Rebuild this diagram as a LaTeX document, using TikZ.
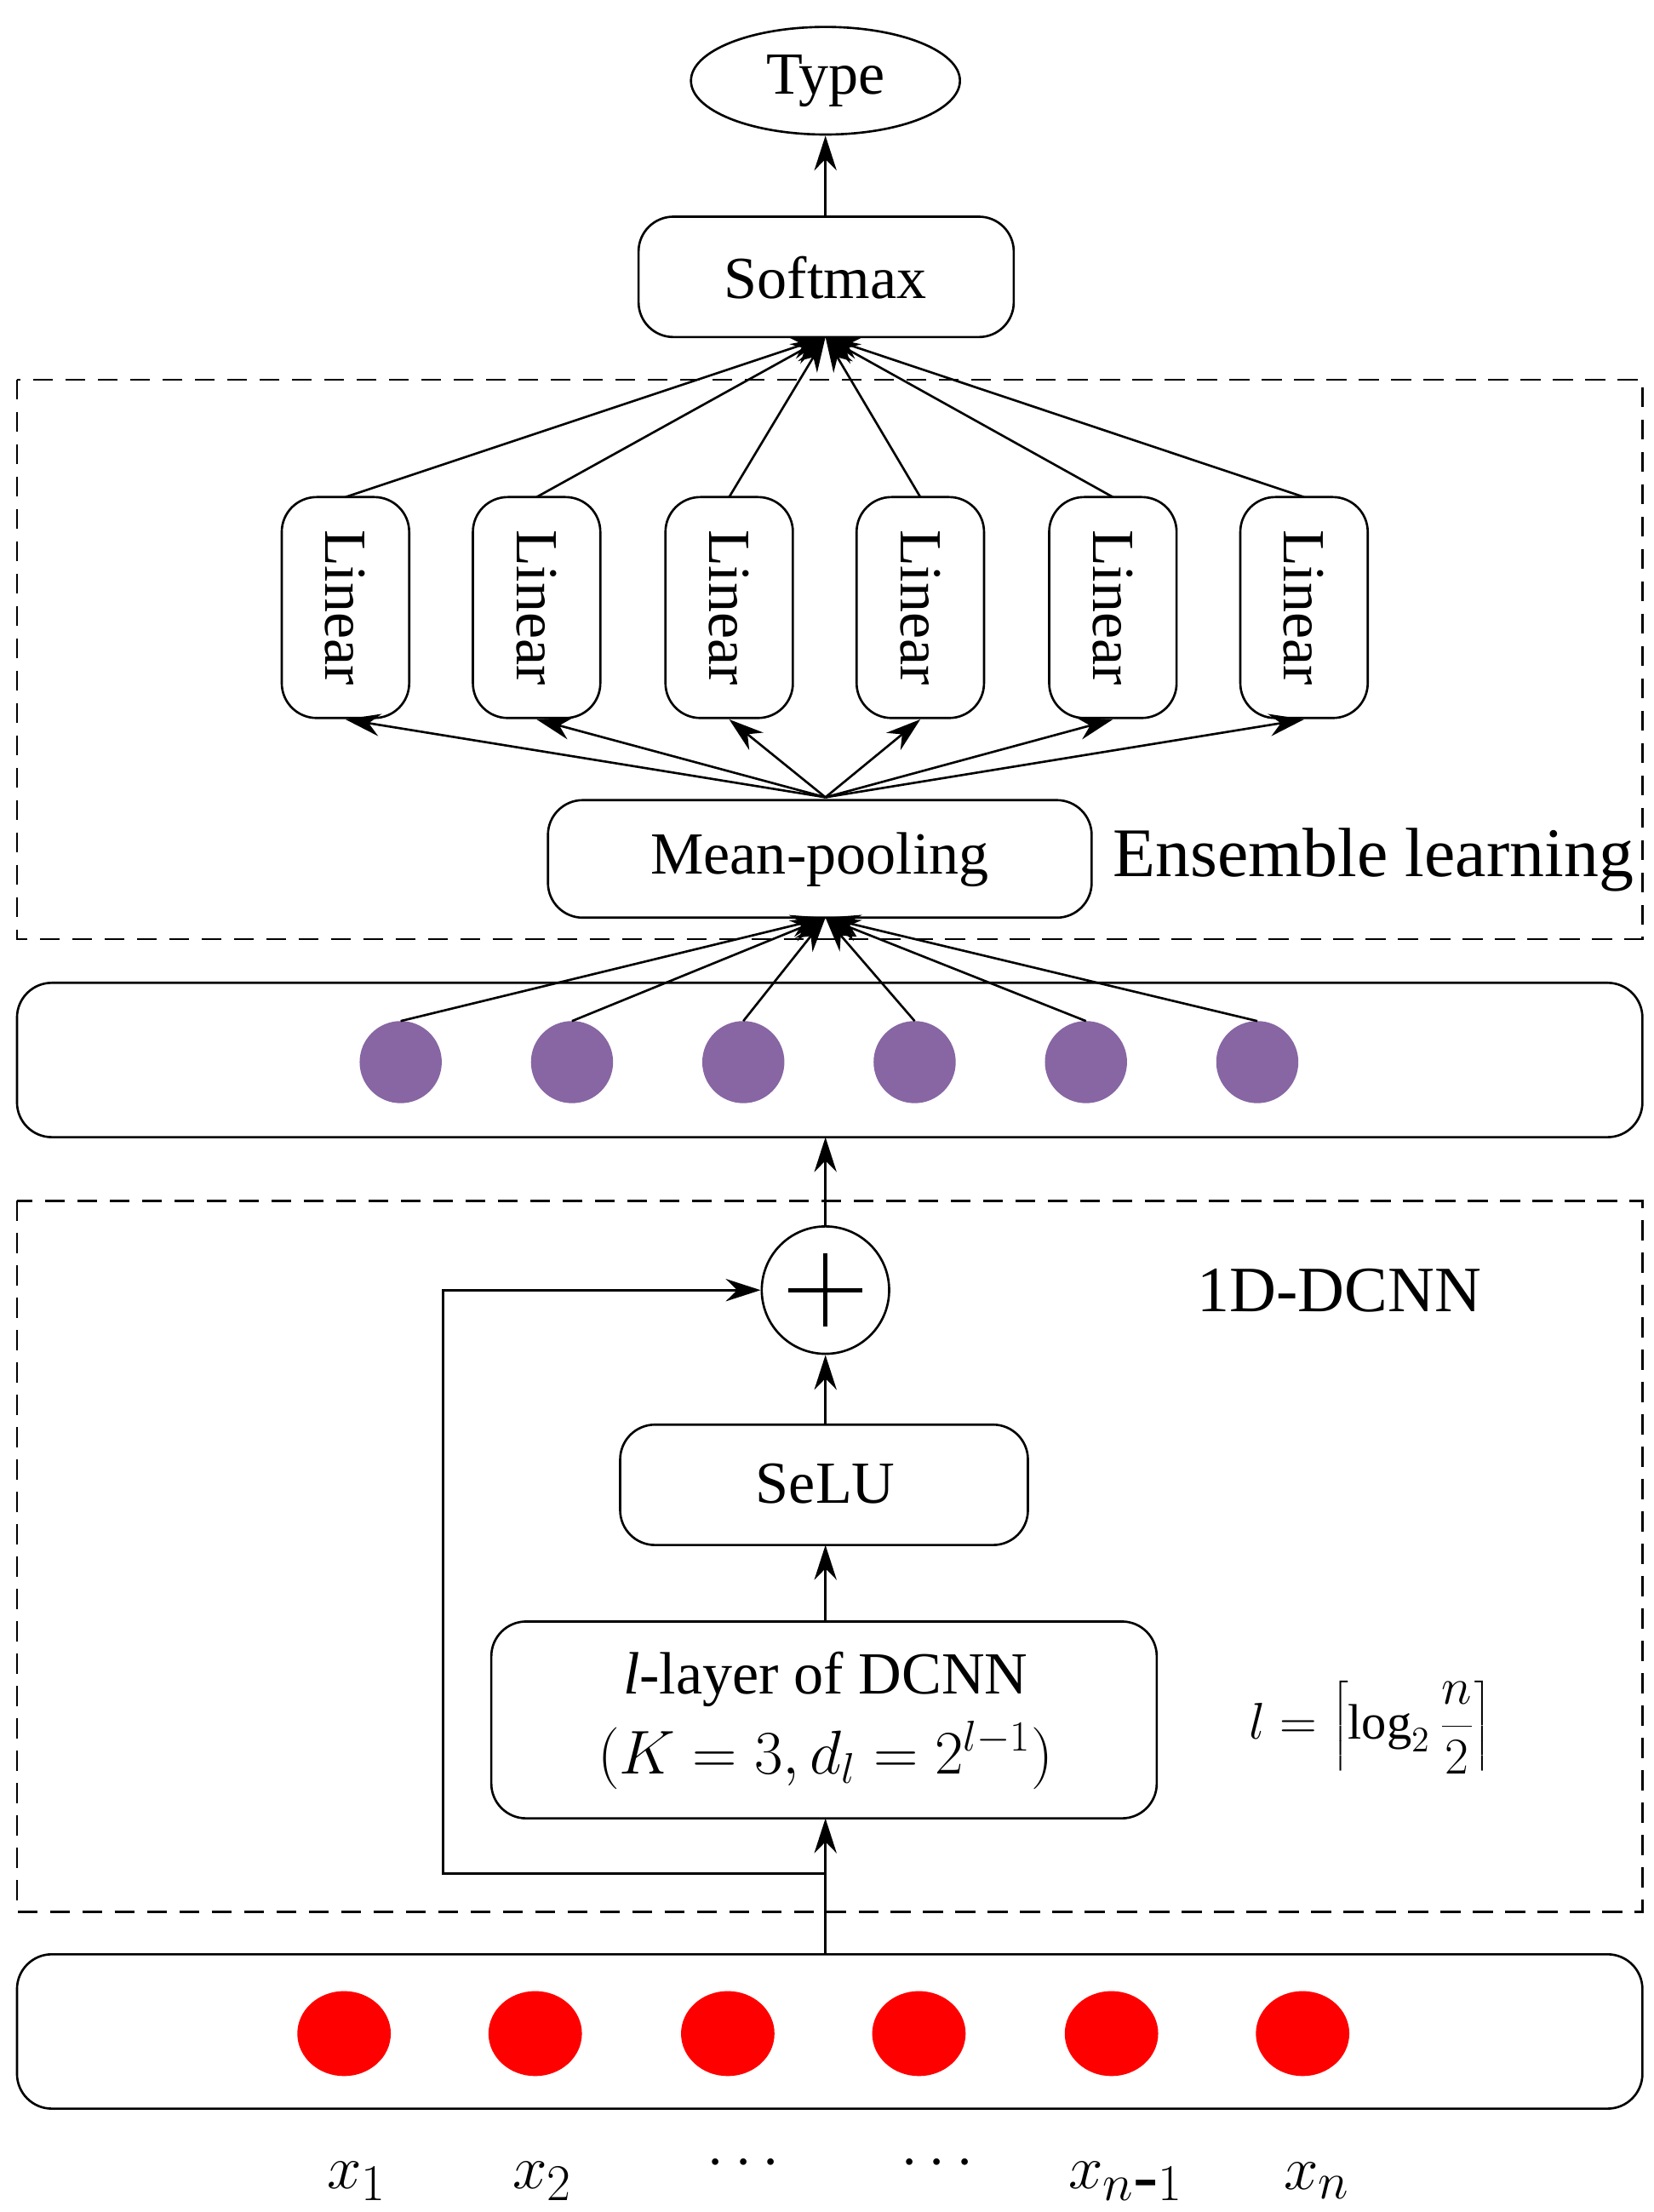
\documentclass[tikz,border=0pt]{standalone}
\usepackage{fontspec}
\setmainfont{Liberation Serif}
\usetikzlibrary{arrows.meta,shapes.geometric}
\begin{document}
\begin{tikzpicture}[x=0.02cm,y=-0.02cm,
 ar/.style={-{Stealth[length=14pt,width=9pt]},line width=0.9pt},
 ln/.style={line width=0.9pt},
 rb/.style={draw,line width=0.9pt,rounded corners=14pt},
 db/.style={draw,line width=0.8pt,dash pattern=on 8pt off 5pt},
 tx/.style={font=\fontsize{24}{28}\selectfont}]
\useasboundingbox (0,0) rectangle (1168,1562);
% Type and softmax
\node[draw,ellipse,line width=0.9pt,minimum width=3.8cm,minimum height=1.52cm,tx] (type) at (583,57) {Type};
\draw[rb] (451,153) rectangle (716,238);
\node[tx] (soft) at (583,196) {Softmax};
\coordinate (softb) at (583,238);
\coordinate (softt) at (583,153);
\draw[ar] (softt) -- (type.south);
% ensemble box
\draw[db] (12,268) rectangle (1160,663);
\foreach \x [count=\i] in {244,379,515,650,786,921}{
  \draw[rb] (\x-45,351) rectangle (\x+45,507);
  \node[tx,rotate=-90] (lin\i) at (\x,429) {Linear};
  \coordinate (lt\i) at (\x,351);
  \coordinate (lb\i) at (\x,508);
  \draw[ar] (lt\i) -- (softb);
}
\draw[rb] (387,565) rectangle (771,648);
\node[tx] (mp) at (579,607) {Mean-pooling};
\coordinate (mpt) at (583,563);
\coordinate (mpb) at (583,648);
\foreach \i in {1,...,6}{\draw[ar] (mpt) -- (lb\i);}
\node[font=\fontsize{28}{32}\selectfont,anchor=west] (ens) at (780,607) {Ensemble learning};
% purple
\draw[rb] (12,694) rectangle (1160,803);
\coordinate (pb) at (583,803);
\foreach \x [count=\i] in {283,404,525,646,767,888}{
  \fill[fill={rgb,255:red,135;green,102;blue,163}] (\x,750) circle[radius=29];
  \coordinate (pc\i) at (\x,721);
  \draw[ar] (pc\i) -- (mpb);
}
% DCNN box
\draw[db] (12,848) rectangle (1160,1350);
\node[draw,circle,line width=0.9pt,minimum size=1.8cm,inner sep=0pt] (plus) at (583,911) {};
\draw[line width=1.6pt] (583,885) -- (583,937) (557,911) -- (609,911);
\draw[ar] (plus.north) -- (pb);
\node[font=\fontsize{26}{30}\selectfont] (dc) at (946,911) {1D-DCNN};
\draw[rb] (438,1006) rectangle (726,1091);
\node[tx] (selu) at (583,1048) {SeLU};
\coordinate (selt) at (583,1006);
\coordinate (selb) at (583,1091);
\draw[ar] (selt) -- (plus.south);
\draw[rb] (347,1145) rectangle (817,1284);
\node[tx,align=center] (dl) at (583,1215) {\textit{l}-layer of DCNN\\[4pt]$(K=3,d_l=2^{l-1})$};
\coordinate (dlt) at (583,1145);
\coordinate (dlb) at (583,1284);
\draw[ar] (dlt) -- (selb);
\node[font=\fontsize{20}{24}\selectfont] (form) at (968,1220) {$l=\left\lceil \log_2\displaystyle\frac{n}{2}\right\rceil$};
% input
\draw[rb] (12,1380) rectangle (1160,1489);
\coordinate (inpt) at (583,1380);
\coordinate (sk) at (583,1323);
\draw[ar] (inpt) -- (dlb);
\draw[ar] (sk) -- (313,1323) -- (313,911) -- (plus.west);
\foreach \x in {243,378,514,649,785,920}{
  \fill[red] (\x,1436) ellipse[x radius=33,y radius=30];
}
\foreach \x/\t in {252/x_1,383/x_2,795/x_{n\mbox{-}1},930/x_n}{
  \node[font=\fontsize{30}{34}\selectfont] at (\x,1540) {$\t$};}
\node[font=\fontsize{24}{28}\selectfont] (d1) at (525,1528) {$\cdots$};
\node[font=\fontsize{24}{28}\selectfont] (d2) at (662,1528) {$\cdots$};
\end{tikzpicture}
\end{document}
